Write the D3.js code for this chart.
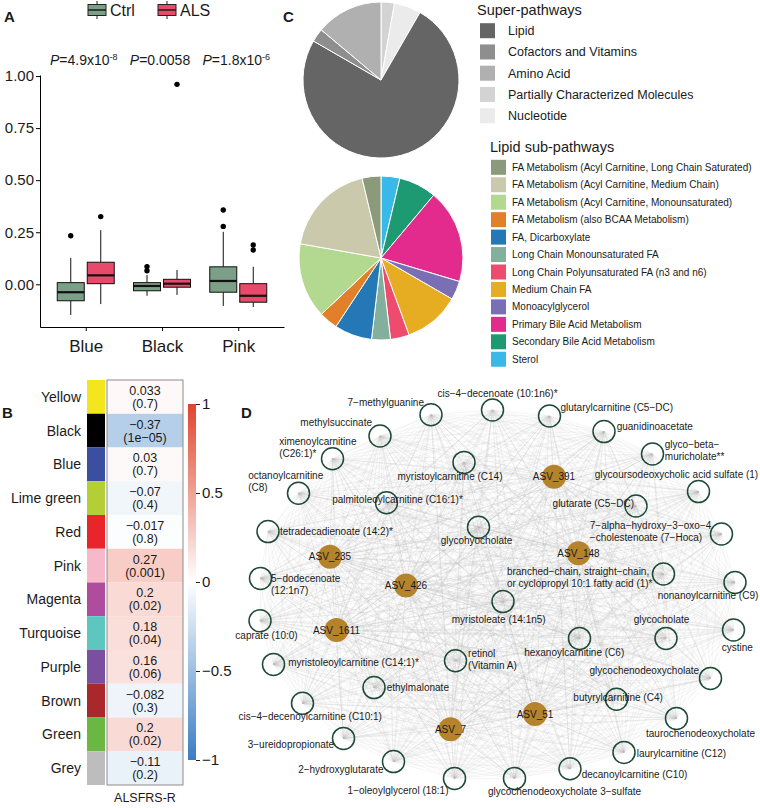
<!DOCTYPE html>
<html lang="en">
<head>
<meta charset="UTF-8">
<title>Module eigengenes, metabolites and ASV network</title>
<script src="https://d3js.org/d3.v7.min.js"></script>
<style>
  body { margin: 0; background: #fff; }
  svg text { font-family: "Liberation Sans", Arial, sans-serif; fill: #1a1a1a; }
</style>
</head>
<body>
<svg id="fig" width="760" height="808"></svg>
<script>
// ---------- data: panel A (eigengene boxplots) ----------
const boxModules = ["Blue", "Black", "Pink"];
const boxGroups = ["Ctrl", "ALS"];
// [lower whisker, Q1, median, Q3, upper whisker]
const ctrlStats = [[-0.147, -0.079, -0.038, 0.008, 0.126], [-0.055, -0.031, -0.008, 0.008, 0.045], [-0.104, -0.038, 0.016, 0.084, 0.252]];
const alsStats = [[-0.095, 0.003, 0.043, 0.106, 0.26], [-0.051, -0.014, 0.003, 0.024, 0.069], [-0.109, -0.086, -0.055, 0.003, 0.084]];
const ctrlOutliers = [[0.233], [0.085, 0.065], [0.357, 0.278]];
const alsOutliers = [[0.325], [0.96], [0.189, 0.165]];
const pValueBase = ["4.9x10", "0.0058", "1.8x10"];
const pValueExp = ["-8", "", "-6"];
const yTicksA = [0, 0.25, 0.5, 0.75, 1];

// ---------- data: panel B (module-trait heatmap) ----------
const traitModules = ["Yellow", "Black", "Blue", "Lime green", "Red", "Pink", "Magenta", "Turquoise", "Purple", "Brown", "Green", "Grey"];
const moduleColours = ["#f4e61c", "#000000", "#3a4f9f", "#b4cf35", "#e8252b", "#f6b9c9", "#b04c9d", "#5ec6c1", "#7a4fa0", "#a8282b", "#6bb744", "#bdbdbd"];
const corrValues = [0.033, -0.37, 0.03, -0.07, -0.017, 0.27, 0.2, 0.18, 0.16, -0.082, 0.2, -0.11];
const corrP = ["0.7", "1e−05", "0.7", "0.4", "0.8", "0.001", "0.02", "0.04", "0.06", "0.3", "0.02", "0.2"];
const colourbarTicks = [1, 0.5, 0, -0.5, -1];

// ---------- data: panel C (pies) ----------
const superPathways = ["Lipid", "Cofactors and Vitamins", "Amino Acid", "Partially Characterized Molecules", "Nucleotide"];
const superCounts = [27, 1, 5, 1, 2];
const superColours = ["#656565", "#8e8e8e", "#b0b0b0", "#d3d3d3", "#ebebeb"];
const superPieOrder = [3, 4, 0, 1, 2];
const lipidSub = ["FA Metabolism (Acyl Carnitine, Long Chain Saturated)", "FA Metabolism (Acyl Carnitine, Medium Chain)",
  "FA Metabolism (Acyl Carnitine, Monounsaturated)", "FA Metabolism (also BCAA Metabolism)", "FA, Dicarboxylate",
  "Long Chain Monounsaturated FA", "Long Chain Polyunsaturated FA (n3 and n6)", "Medium Chain FA", "Monoacylglycerol",
  "Primary Bile Acid Metabolism", "Secondary Bile Acid Metabolism", "Sterol"];
const lipidCounts = [1, 5, 4, 1, 2, 1, 1, 3, 1, 5, 2, 1];
const lipidColours = ["#8a9a7b", "#cac9ab", "#b3d88f", "#e2802a", "#2478b5", "#82b09c", "#ee4c6e", "#e6ac22", "#7a6fb4", "#e32b8e", "#1d9a72", "#3ab9e9"];

// ---------- data: panel D (network, layout units 0-100) ----------
const metaboliteNames = ["7−methylguanine", "cis−4−decenoate (10:1n6)*", "glutarylcarnitine (C5−DC)", "guanidinoacetate",
  "methylsuccinate", "ximenoylcarnitine\n(C26:1)*", "glyco−beta−\nmuricholate**", "octanoylcarnitine\n(C8)",
  "myristoylcarnitine (C14)", "glycoursodeoxycholic acid sulfate (1)", "palmitoleoylcarnitine (C16:1)*", "glutarate (C5−DC)",
  "tetradecadienoate (14:2)*", "7−alpha−hydroxy−3−oxo−4\n−cholestenoate (7−Hoca)", "glycohyocholate",
  "branched−chain, straight−chain,\nor cyclopropyl 10:1 fatty acid (1)*", "5−dodecenoate\n(12:1n7)", "nonanoylcarnitine (C9)",
  "myristoleate (14:1n5)", "caprate (10:0)", "glycocholate", "cystine", "hexanoylcarnitine (C6)", "retinol\n(Vitamin A)",
  "myristoleoylcarnitine (C14:1)*", "glycochenodeoxycholate", "ethylmalonate", "butyrylcarnitine (C4)",
  "cis−4−decenoylcarnitine (C10:1)", "taurochenodeoxycholate", "3−ureidopropionate", "laurylcarnitine (C12)",
  "2−hydroxyglutarate", "decanoylcarnitine (C10)", "1−oleoylglycerol (18:1)", "glycochenodeoxycholate 3−sulfate"];
const metaboliteLayoutX = [36.2, 48.5, 59.9, 70.8, 26.0, 16.5, 80.5, 9.7, 42.8, 89.7, 27.3, 77.2, 3.6, 94.3, 45.7, 82.7, 2.1, 97.0,
  50.6, 2.0, 83.2, 96.7, 65.9, 41.1, 4.7, 92.1, 24.8, 73.3, 10.5, 85.3, 18.7, 74.8, 28.7, 64.0, 40.9, 52.9];
const metaboliteLayoutY = [96.3, 97.5, 96.0, 92.1, 91.0, 85.3, 86.5, 76.7, 84.4, 77.1, 74.3, 73.5, 67.1, 66.5, 68.2, 56.5, 55.4, 54.4,
  49.6, 44.8, 40.4, 42.5, 40.4, 34.8, 33.9, 30.4, 28.1, 25.2, 24.2, 20.4, 15.4, 11.9, 9.6, 7.8, 5.4, 5.4];
const asvNames = ["ASV_235", "ASV_426", "ASV_1611", "ASV_7", "ASV_51", "ASV_148", "ASV_391"];
const asvLayoutX = [16.0, 31.2, 17.3, 40.1, 57.0, 65.7, 60.8];
const asvLayoutY = [60.8, 53.6, 42.5, 17.7, 21.5, 61.7, 80.8];

// label placement for metabolite nodes: [dx, dy, anchor]
const metLabelOffsets = [[-7, -9, "end"], [5, -13.3, "middle"], [11, -5, "start"], [12.7, -1.7, "start"], [-8, -10, "end"],
  [-53.3, -14, "start"], [12.3, -5.7, "start"], [-50.3, -14.3, "start"], [-14, 17.7, "middle"], [-22, -13.4, "middle"],
  [11, 0.6, "middle"], [-2, 0.7, "end"], [12, 3.3, "start"], [-131.7, -4.7, "start"], [-2, 17, "middle"],
  [-156.6, 1, "start"], [10.5, 3.4, "start"], [-27, 17, "middle"], [-4.3, 21.6, "middle"], [6.5, 18.6, "middle"],
  [-4.5, -15, "middle"], [3.7, 20.7, "middle"], [-5.3, 17.7, "middle"], [12.6, -4.3, "start"], [14.7, 1.7, "start"],
  [-11.4, -4, "end"], [12.7, 3, "start"], [1.6, 2, "middle"], [7.7, 16.7, "middle"], [24, 18.4, "middle"],
  [-9.3, 9.4, "end"], [12.7, 4.4, "start"], [-10, 11.6, "end"], [11.7, 8.7, "start"], [-6, 15.7, "end"], [50, 16.7, "middle"]];

const svg = d3.select("#fig");

function panelLetter(t, x, y) {
  svg.append("text").attr("x", x).attr("y", y).attr("font-size", 15).attr("font-weight", "bold").text(t);
}

// ================= Panel A =================
const gA = svg.append("g");
const xA = d3.scalePoint().domain(boxModules).range([40, 284]).padding(0.6);
const yA = d3.scaleLinear().domain([-0.205, 1.005]).range([327, 75]);
const groupColour = { Ctrl: "#7c9f88", ALS: "#e84a6b" };
const dodge = 15, boxW = 27;

const yAxA = gA.append("g").attr("transform", "translate(40,0)")
  .call(d3.axisLeft(yA).tickValues(yTicksA).tickFormat(d3.format(".2f")).tickSize(4).tickSizeOuter(0));
const xAxA = gA.append("g").attr("transform", "translate(0,327)")
  .call(d3.axisBottom(xA).tickSize(4).tickSizeOuter(0));
[yAxA, xAxA].forEach(ax => {
  ax.select(".domain").attr("stroke", "#000").attr("stroke-width", 1);
  ax.selectAll(".tick line").attr("stroke", "#000");
  ax.selectAll("text").attr("fill", "#222").attr("font-family", null);
});
yAxA.selectAll("text").attr("font-size", 15).attr("x", -6);
xAxA.selectAll("text").attr("font-size", 17).attr("dy", "1.05em");

boxModules.forEach((m, i) => {
  [[ctrlStats, ctrlOutliers, "Ctrl", -1], [alsStats, alsOutliers, "ALS", 1]].forEach(([stats, outs, grp, side]) => {
    const [lo, q1, med, q3, hi] = stats[i];
    const cx = xA(m) + side * dodge;
    gA.append("line").attr("x1", cx).attr("x2", cx).attr("y1", yA(hi)).attr("y2", yA(q3)).attr("stroke", "#111");
    gA.append("line").attr("x1", cx).attr("x2", cx).attr("y1", yA(q1)).attr("y2", yA(lo)).attr("stroke", "#111");
    gA.append("rect").attr("x", cx - boxW / 2).attr("y", yA(q3)).attr("width", boxW).attr("height", yA(q1) - yA(q3))
      .attr("fill", groupColour[grp]).attr("stroke", "#111").attr("stroke-width", 1);
    gA.append("line").attr("x1", cx - boxW / 2).attr("x2", cx + boxW / 2).attr("y1", yA(med)).attr("y2", yA(med))
      .attr("stroke", "#111").attr("stroke-width", 2.2);
    outs[i].forEach(o => gA.append("circle").attr("cx", cx).attr("cy", yA(o)).attr("r", 2.7).attr("fill", "#000"));
  });
  const t = gA.append("text").attr("x", xA(m) - 2).attr("y", 65).attr("text-anchor", "middle").attr("font-size", 14);
  t.append("tspan").attr("font-style", "italic").text("P");
  t.append("tspan").text("=" + pValueBase[i]);
  if (pValueExp[i]) t.append("tspan").attr("font-size", 9).attr("dy", -5).text(pValueExp[i]);
});

// legend
const legendX = [88, 158];
boxGroups.forEach((g, i) => {
  const lx = legendX[i];
  const lg = gA.append("g");
  lg.append("line").attr("x1", lx + 9).attr("x2", lx + 9).attr("y1", 1).attr("y2", 19).attr("stroke", "#222");
  lg.append("rect").attr("x", lx).attr("y", 4.5).attr("width", 18).attr("height", 11).attr("fill", groupColour[g]).attr("stroke", "#222");
  lg.append("line").attr("x1", lx).attr("x2", lx + 18).attr("y1", 10).attr("y2", 10).attr("stroke", "#222").attr("stroke-width", 1.6);
  lg.append("text").attr("x", lx + 22).attr("y", 16).attr("font-size", 16).text(g);
});
panelLetter("A", 4, 22);

// ================= Panel B =================
const gB = svg.append("g");
const yB = d3.scaleBand().domain(traitModules).range([380, 785]);
const corrColour = d3.scaleLinear().domain([-1, 0, 1]).range(["#3b7dc4", "#ffffff", "#e0452c"]);
const fmtMinus = v => String(v).replace("-", "−");

traitModules.forEach((m, i) => {
  const y0 = yB(m), h = yB.bandwidth(), cy = y0 + h / 2;
  gB.append("rect").attr("x", 87).attr("y", y0).attr("width", 18).attr("height", h).attr("fill", moduleColours[i]);
  gB.append("rect").attr("x", 107).attr("y", y0).attr("width", 76).attr("height", h).attr("fill", corrColour(corrValues[i]));
  gB.append("text").attr("x", 81).attr("y", cy + 5).attr("text-anchor", "end").attr("font-size", 14).text(m);
  gB.append("text").attr("x", 145).attr("y", cy - 2).attr("text-anchor", "middle").attr("font-size", 12.5).text(fmtMinus(corrValues[i]));
  gB.append("text").attr("x", 145).attr("y", cy + 11).attr("text-anchor", "middle").attr("font-size", 12.5).text("(" + corrP[i] + ")");
});
gB.append("rect").attr("x", 107).attr("y", 380).attr("width", 76).attr("height", 405)
  .attr("fill", "none").attr("stroke", "#8c8c8c").attr("stroke-width", 1);

// colour bar
const yBar = d3.scaleLinear().domain([-1, 1]).range([760, 404]);
const grad = svg.append("defs").append("linearGradient").attr("id", "cbar")
  .attr("x1", 0).attr("x2", 0).attr("y1", 1).attr("y2", 0);
[-1, 0, 1].forEach(v => grad.append("stop").attr("offset", (v + 1) / 2).attr("stop-color", corrColour(v)));
gB.append("rect").attr("x", 188).attr("y", yBar(1)).attr("width", 8).attr("height", yBar(-1) - yBar(1)).attr("fill", "url(#cbar)");
const cbAx = gB.append("g").attr("transform", "translate(196,0)")
  .call(d3.axisRight(yBar).tickValues(colourbarTicks).tickSize(4).tickFormat(d => d === 0 ? "0" : fmtMinus(d)));
cbAx.select(".domain").remove();
cbAx.selectAll(".tick line").attr("stroke", "#222");
cbAx.selectAll("text").attr("font-size", 15).attr("fill", "#222").attr("font-family", null).attr("x", 6);
gB.append("text").attr("x", 145).attr("y", 802).attr("text-anchor", "middle").attr("font-size", 12.5).text("ALSFRS-R");
panelLetter("B", 2, 418);

// ================= Panel C =================
const gC = svg.append("g");
const superOrdered = superPieOrder.map(i => ({ name: superPathways[i], n: superCounts[i], col: superColours[i] }));
const pie = d3.pie().sort(null).value(d => d.n);
const arcTop = d3.arc().innerRadius(0).outerRadius(78);
gC.append("g").attr("transform", "translate(381,80)")
  .selectAll("path").data(pie(superOrdered)).join("path")
  .attr("d", arcTop).attr("fill", d => d.data.col).attr("stroke", "#fff").attr("stroke-width", 1);

const lipidOrdered = lipidSub.map((s, i) => ({ name: s, n: lipidCounts[i], col: lipidColours[i] })).reverse();
const arcBot = d3.arc().innerRadius(0).outerRadius(82);
gC.append("g").attr("transform", "translate(381,258)")
  .selectAll("path").data(pie(lipidOrdered)).join("path")
  .attr("d", arcBot).attr("fill", d => d.data.col).attr("stroke", "#fff").attr("stroke-width", 1);

gC.append("text").attr("x", 477).attr("y", 15).attr("font-size", 14.5).text("Super-pathways");
superPathways.forEach((s, i) => {
  const cy = 30.7 + i * 21.25;
  gC.append("rect").attr("x", 480).attr("y", cy - 7.5).attr("width", 15).attr("height", 15).attr("fill", superColours[i]);
  gC.append("text").attr("x", 508).attr("y", cy + 4.5).attr("font-size", 12.5).text(s);
});
gC.append("text").attr("x", 490).attr("y", 152).attr("font-size", 14.5).text("Lipid sub-pathways");
lipidSub.forEach((s, i) => {
  const cy = 167.3 + i * 17.45;
  gC.append("rect").attr("x", 491).attr("y", cy - 7.5).attr("width", 15).attr("height", 15).attr("fill", lipidColours[i]);
  gC.append("text").attr("x", 512).attr("y", cy + 3.5).attr("font-size", 10).text(s);
});
panelLetter("C", 283, 22);

// ================= Panel D =================
const gD = svg.append("g");
const xD = d3.scaleLinear().domain([0, 100]).range([250, 750]);
const yD = d3.scaleLinear().domain([0, 100]).range([800, 400]);
const mets = metaboliteNames.map((n, i) => ({ name: n, x: xD(metaboliteLayoutX[i]), y: yD(metaboliteLayoutY[i]), off: metLabelOffsets[i] }));
const asvs = asvNames.map((n, i) => ({ name: n, x: xD(asvLayoutX[i]), y: yD(asvLayoutY[i]) }));

const edges = [];
asvs.forEach(a => mets.forEach(m => edges.push([a, m, 0.5])));
mets.forEach((m, i) => mets.forEach((k, j) => { if (j > i) edges.push([m, k, 0.3]); }));
gD.append("g").selectAll("line").data(edges).join("line")
  .attr("x1", d => d[0].x).attr("y1", d => d[0].y).attr("x2", d => d[1].x).attr("y2", d => d[1].y)
  .attr("stroke", "#bdbdbd").attr("stroke-width", 0.5).attr("stroke-opacity", d => d[2]);

gD.append("g").selectAll("circle").data(mets).join("circle")
  .attr("cx", d => d.x).attr("cy", d => d.y).attr("r", 11)
  .attr("fill", "none").attr("stroke", "#1d4a37").attr("stroke-width", 1.5);

mets.forEach(m => {
  const [dx, dy, anchor] = m.off;
  const t = gD.append("text").attr("x", m.x + dx).attr("y", m.y + dy).attr("text-anchor", anchor).attr("font-size", 10);
  m.name.split("\n").forEach((line, k) => {
    t.append("tspan").attr("x", m.x + dx).attr("dy", k === 0 ? 0 : 12).text(line);
  });
});

gD.append("g").selectAll("circle").data(asvs).join("circle")
  .attr("cx", d => d.x).attr("cy", d => d.y).attr("r", 12).attr("fill", "#b5832b");
gD.append("g").selectAll("text").data(asvs).join("text")
  .attr("x", d => d.x).attr("y", d => d.y + 3.5).attr("text-anchor", "middle").attr("font-size", 10).text(d => d.name);
panelLetter("D", 241, 418);
</script>
</body>
</html>
